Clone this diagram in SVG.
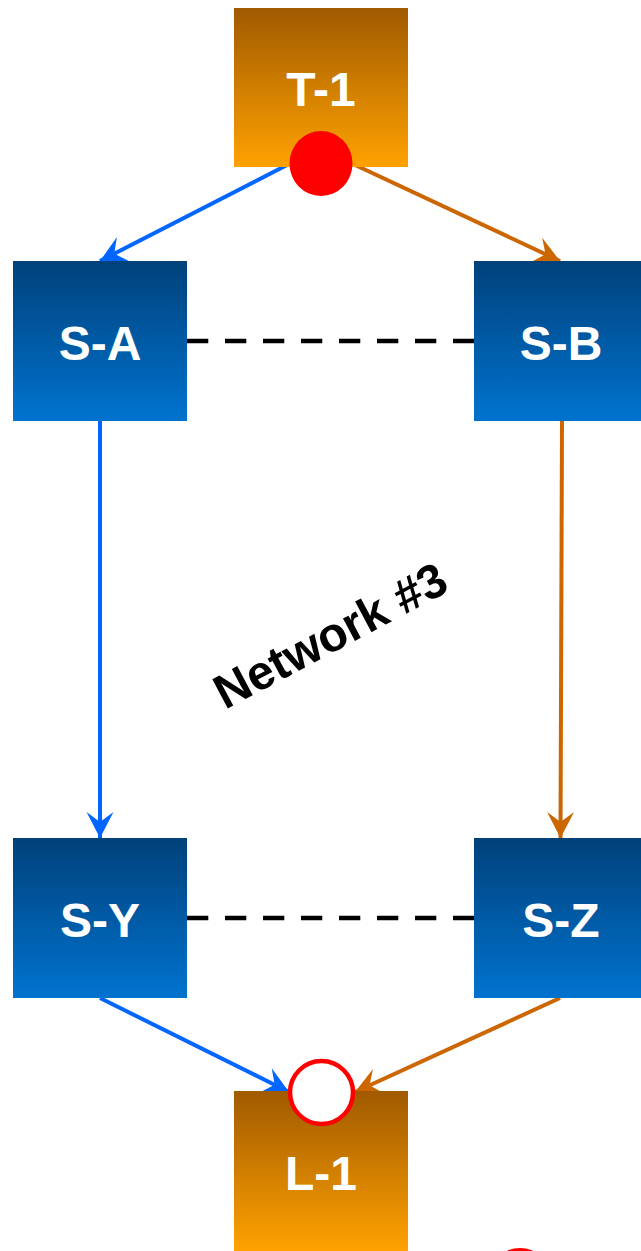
<svg xmlns="http://www.w3.org/2000/svg" width="641" height="1251" viewBox="0 0 641 1251">
  <style>
    .lbl { font-family: "Liberation Sans", Arial, sans-serif; font-weight: bold; font-size: 48px; fill: #ffffff; text-anchor: middle; }
    .net { font-family: "Liberation Sans", Arial, sans-serif; font-weight: bold; font-size: 48px; fill: #000000; text-anchor: middle; }
    .blue { fill: none; stroke: #0066ff; stroke-width: 4; marker-end: url(#arrowBlue); }
    .orange { fill: none; stroke: #cc6600; stroke-width: 4; marker-end: url(#arrowOrange); }
    .dash { fill: none; stroke: #000000; stroke-width: 4.5; stroke-dasharray: 21.3 16.7; }
  </style>
  <defs>
    <linearGradient id="gOrange" x1="0" y1="0" x2="0" y2="1">
      <stop offset="0" stop-color="#a05a00"/>
      <stop offset="1" stop-color="#ffa200"/>
    </linearGradient>
    <linearGradient id="gBlue" x1="0" y1="0" x2="0" y2="1">
      <stop offset="0" stop-color="#00417a"/>
      <stop offset="1" stop-color="#0073cf"/>
    </linearGradient>
    <marker id="arrowBlue" markerUnits="userSpaceOnUse" markerWidth="30" markerHeight="30" viewBox="-27 -15 30 30" refX="0" refY="0" orient="auto">
      <path d="M0,0 L-26,-13.5 L-16,0 L-26,13.5 Z" fill="#0066ff"/>
    </marker>
    <marker id="arrowOrange" markerUnits="userSpaceOnUse" markerWidth="30" markerHeight="30" viewBox="-27 -15 30 30" refX="0" refY="0" orient="auto">
      <path d="M0,0 L-26,-13.5 L-16,0 L-26,13.5 Z" fill="#cc6600"/>
    </marker>
  </defs>

  <!-- connectors -->
  <g id="connectors">
    <line class="dash" x1="187" y1="341" x2="474" y2="341"/>
    <line class="dash" x1="187" y1="918" x2="474" y2="918"/>
    <line class="blue" x1="289" y1="164" x2="100" y2="261"/>
    <line class="orange" x1="353" y1="164" x2="560" y2="261"/>
    <line class="blue" x1="100" y1="421" x2="100" y2="838"/>
    <line class="orange" x1="562" y1="421" x2="560.5" y2="838"/>
    <line class="blue" x1="100" y1="998" x2="289" y2="1092"/>
    <line class="orange" x1="560" y1="998" x2="355" y2="1092"/>
  </g>

  <!-- nodes -->
  <g id="T-1">
    <rect x="234" y="8" width="174" height="159" fill="url(#gOrange)"/>
    <text class="lbl" x="321" y="106">T-1</text>
  </g>
  <g id="S-A">
    <rect x="13" y="261" width="174" height="160" fill="url(#gBlue)"/>
    <text class="lbl" x="100" y="360">S-A</text>
  </g>
  <g id="S-B">
    <rect x="474" y="261" width="174" height="160" fill="url(#gBlue)"/>
    <text class="lbl" x="561" y="360">S-B</text>
  </g>
  <g id="S-Y">
    <rect x="13" y="838" width="174" height="160" fill="url(#gBlue)"/>
    <text class="lbl" x="100" y="937">S-Y</text>
  </g>
  <g id="S-Z">
    <rect x="474" y="838" width="174" height="160" fill="url(#gBlue)"/>
    <text class="lbl" x="561" y="937">S-Z</text>
  </g>
  <g id="L-1">
    <rect x="234" y="1091" width="174" height="160" fill="url(#gOrange)"/>
    <text class="lbl" x="321" y="1190">L-1</text>
  </g>
  <g id="source-point">
    <ellipse cx="321" cy="163.5" rx="31.5" ry="32.5" fill="#ff0000"/>
  </g>
  <g id="target-point">
    <circle cx="321.5" cy="1092.5" r="31.5" fill="#ffffff" stroke="#ff0000" stroke-width="4.5"/>
  </g>
  <g id="extra-point">
    <circle cx="520" cy="1280" r="32" fill="#ff0000"/>
  </g>
  <g id="network-label">
    <text class="net" transform="translate(338,650) rotate(-28)" x="0" y="0">Network #3</text>
  </g>
</svg>
